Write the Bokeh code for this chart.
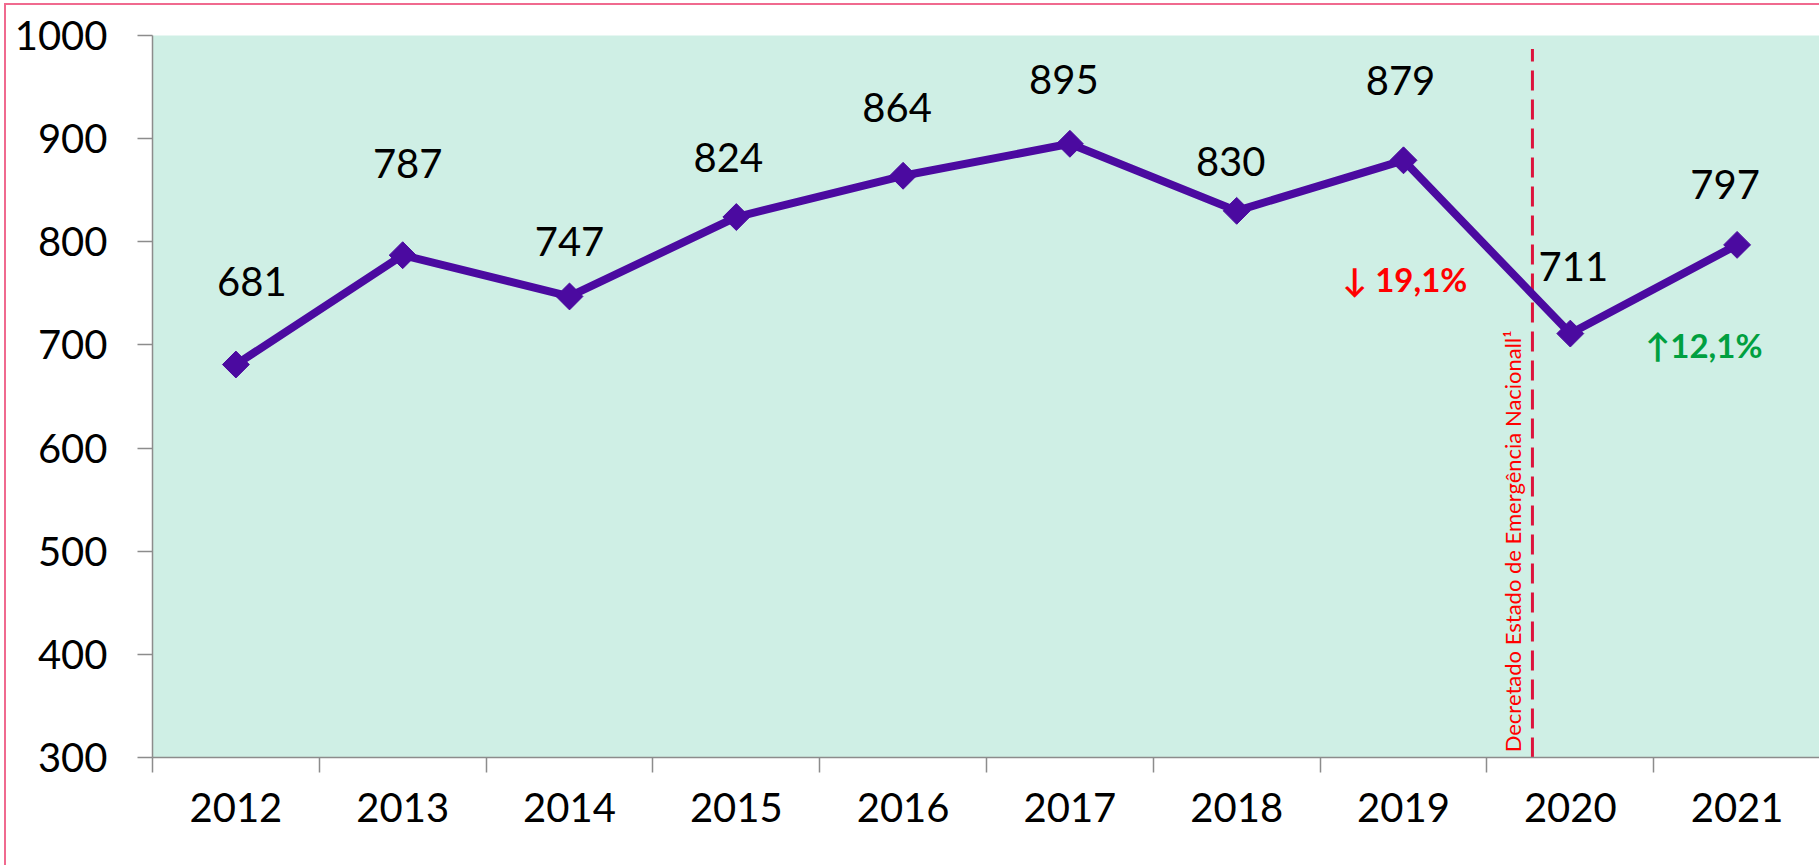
import numpy as np
from bokeh.plotting import figure
from bokeh.models import ColumnDataSource, FixedTicker, Range1d
from bokeh.core.properties import value
from bokeh.embed import file_html
from bokeh.resources import INLINE

# ---- data ----
years = ["2012", "2013", "2014", "2015", "2016", "2017", "2018", "2019", "2020", "2021"]
counts = [681, 787, 747, 824, 864, 895, 830, 879, 711, 797]
y_ticks = [300, 400, 500, 600, 700, 800, 900, 1000]
emergency_label = "Decretado Estado de Emergência Nacionall\u00b9"

# label placement (screen-pixel offsets of the value labels from their points)
label_dx = [16, 5, 0, -8, -6, -6, -6, -3, 3, -12]
label_dy = [-83, -92, -55, -60, -68, -64, -49, -80, -67, -60]

idx = list(range(len(years)))

# percentage changes 2019->2020 and 2020->2021
drop = (counts[8] - counts[7]) / counts[7] * 100
rise = (counts[9] - counts[8]) / counts[8] * 100
drop_txt = "\u2193 " + f"{abs(drop):.1f}".replace(".", ",") + "%"
rise_txt = "\u2191" + f"{abs(rise):.1f}".replace(".", ",") + "%"

FONT = value("Lato")
AXIS_GRAY = "#8c8c8c"

p = figure(
    width=1819, height=865,
    x_range=Range1d(-0.5, 9.494), y_range=Range1d(300, 1000),
    output_backend="svg", toolbar_location=None,
    min_border_left=152, min_border_right=0, min_border_top=35, min_border_bottom=108,
    background_fill_color="#CFEFE5", border_fill_color="white", border_fill_alpha=0,
    outline_line_color=None,
)
p.styles = {"box-shadow": "inset 4px 3px 0px 0px #ffffff, inset 6px 5px 0px 0px #F06A8F"}

p.xgrid.visible = False
p.ygrid.visible = False

# x axis: labels at category centers, tick marks between categories
p.xaxis.ticker = FixedTicker(ticks=idx, minor_ticks=[i - 0.5 for i in range(len(years) + 1)])
p.xaxis.major_label_overrides = {i: y for i, y in zip(idx, years)}
p.xaxis.major_tick_line_color = None
p.xaxis.minor_tick_line_color = AXIS_GRAY
p.xaxis.minor_tick_line_width = 1.5
p.xaxis.minor_tick_in = 0
p.xaxis.minor_tick_out = 15
p.xaxis.major_label_standoff = 20

p.yaxis.ticker = FixedTicker(ticks=y_ticks)
p.yaxis.major_tick_line_color = AXIS_GRAY
p.yaxis.major_tick_line_width = 1.5
p.yaxis.major_tick_in = 0
p.yaxis.major_tick_out = 15
p.yaxis.minor_tick_line_color = None
p.yaxis.major_label_standoff = 30

for ax in (p.xaxis, p.yaxis):
    ax.axis_line_color = AXIS_GRAY
    ax.axis_line_width = 1.5
    ax.major_label_text_font = "Lato"
    ax.major_label_text_font_size = "40px"
    ax.major_label_text_color = "black"

# emergency decree marker
dash_x = idx[7] + 0.773
p.segment(x0=[dash_x], y0=[300], x1=[dash_x], y1=[987], line_color="#DC143C",
          line_width=3, line_dash="20 9")
p.text(x=[dash_x - 0.122], y=[305], text=[emergency_label], angle=np.pi / 2,
       text_align="left", text_baseline="middle", text_font=FONT,
       text_font_size="22px", text_color="#FF0000")

# series
src = ColumnDataSource(dict(x=idx, y=counts, label=[str(c) for c in counts],
                            dx=label_dx, dy=label_dy))
p.line("x", "y", source=src, line_color="#4B0AA0", line_width=8)
p.scatter("x", "y", source=src, marker="square", size=19, angle=np.pi / 4,
          fill_color="#4B0AA0", line_color="#4B0AA0")
p.text("x", "y", text="label", source=src, x_offset="dx", y_offset="dy",
       text_align="center", text_baseline="middle", text_font=FONT,
       text_font_size="40px", text_color="black")

# change annotations
p.text(x=[idx[7] - 0.366], y=[764], text=[drop_txt], text_align="left",
       text_baseline="middle", text_font=FONT, text_font_style="bold",
       text_font_size="33px", text_color="#FF0000")
p.text(x=[idx[8] + 0.451], y=[700], text=[rise_txt], text_align="left",
       text_baseline="middle", text_font=FONT, text_font_style="bold",
       text_font_size="33px", text_color="#00A040")

open("out.html", "w").write(file_html(p, INLINE))
